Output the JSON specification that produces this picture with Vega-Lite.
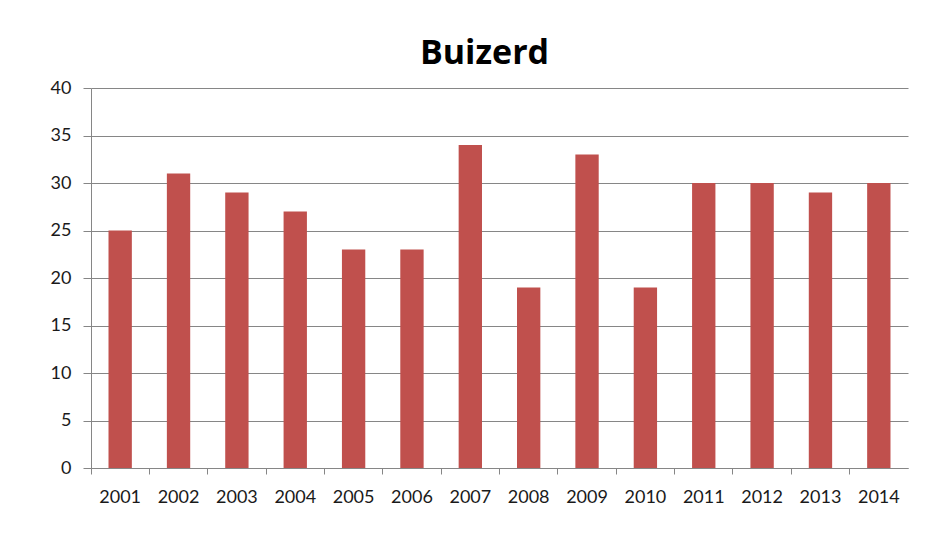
{
  "$schema": "https://vega.github.io/schema/vega-lite/v6.json",
  "autosize": "none",
  "width": 817,
  "height": 380,
  "padding": {"left": 91, "top": 88, "right": 43, "bottom": 85},
  "background": "white",
  "title": {"text": "Buizerd", "font": "Open Sans", "fontSize": 34, "fontWeight": "bold", "color": "#000000", "anchor": "middle", "dx": -15, "offset": 8},
  "data": {"values": [
    {"jaar": "2001", "aantal": 25},
    {"jaar": "2002", "aantal": 31},
    {"jaar": "2003", "aantal": 29},
    {"jaar": "2004", "aantal": 27},
    {"jaar": "2005", "aantal": 23},
    {"jaar": "2006", "aantal": 23},
    {"jaar": "2007", "aantal": 34},
    {"jaar": "2008", "aantal": 19},
    {"jaar": "2009", "aantal": 33},
    {"jaar": "2010", "aantal": 19},
    {"jaar": "2011", "aantal": 30},
    {"jaar": "2012", "aantal": 30},
    {"jaar": "2013", "aantal": 29},
    {"jaar": "2014", "aantal": 30}
  ]},
  "mark": {"type": "bar", "color": "#C0504D"},
  "encoding": {
    "x": {"field": "jaar", "type": "nominal", "sort": null,
      "scale": {"paddingInner": 0.6, "paddingOuter": 0.3},
      "axis": {"title": null, "labelAngle": 0, "bandPosition": -0.75, "labelOffset": 0, "tickSize": 6, "tickColor": "#868686", "domainColor": "#868686", "labelFont": "Lato", "labelFontSize": 18, "labelColor": "#1a1a1a", "labelPadding": 14, "grid": false}},
    "y": {"field": "aantal", "type": "quantitative",
      "scale": {"domain": [0, 40], "nice": false},
      "axis": {"title": null, "values": [0, 5, 10, 15, 20, 25, 30, 35, 40], "tickSize": 8, "tickColor": "#868686", "domainColor": "#868686", "gridColor": "#868686", "labelFont": "Lato", "labelFontSize": 18, "labelColor": "#1a1a1a", "labelPadding": 12}}
  },
  "config": {"view": {"stroke": null}}
}
